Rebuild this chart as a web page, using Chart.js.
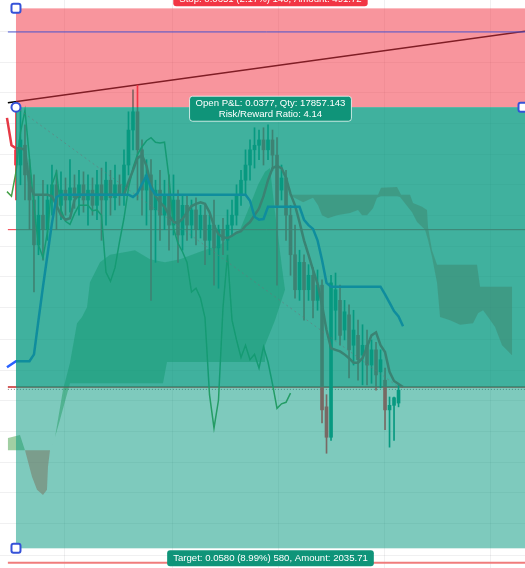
<!DOCTYPE html>
<html lang="en">
<head>
<meta charset="utf-8">
<title>Short position</title>
<script src="https://cdn.jsdelivr.net/npm/chart.js@4.4.1/dist/chart.umd.min.js"></script>
<style>
  html, body { margin: 0; padding: 0; background: #ffffff; }
  canvas { display: block; }
</style>
</head>
<body>
<canvas id="positionChart" width="525" height="568"></canvas>
<script>
// position levels
const stopPrice = 0.0651;
const entryPrice = 0.0638;
const targetPrice = 0.0580;
const closePrice = 0.06012;
const levelPrice = 0.06219;
const bluePrice = 0.06479;
const floorPrice = 0.05781;
const trendStart = [-1.8, 0.06386];
const trendEnd = [113.1, 0.06480];
const entryBar = 0;
const lastBar = 85;

// visible range
const barMin = -3.55, barMax = 113.1;
const priceMin = 0.057741, priceMax = 0.06521;
const xGridBars = [10.89, 34.67, 58.22, 81.78, 105.33];
const yGridPrices = [0.06480, 0.06439, 0.06400, 0.06359, 0.06318, 0.06278, 0.06237, 0.06197, 0.06157,
  0.06116, 0.06075, 0.06034, 0.05995, 0.05954, 0.05913, 0.05873, 0.05832, 0.05791];

// candles, bar 0..85
const candleOpen = [0.06324,0.06304,0.06330,0.06291,0.06258,0.06199,0.06238,0.06219,0.06258,0.06278,
  0.06251,0.06271,0.06258,0.06274,0.06261,0.06278,0.06258,0.06271,0.06251,0.06278,
  0.06258,0.06284,0.06261,0.06278,0.06265,0.06304,0.06350,0.06374,0.06324,0.06271,
  0.06291,0.06245,0.06271,0.06238,0.06265,0.06225,0.06258,0.06212,0.06251,0.06225,
  0.06245,0.06219,0.06238,0.06205,0.06225,0.06195,0.06219,0.06205,0.06225,0.06238,
  0.06265,0.06284,0.06304,0.06324,0.06330,0.06337,0.06324,0.06337,0.06317,0.06271,
  0.06287,0.06238,0.06186,0.06140,0.06176,0.06140,0.06159,0.06126,0.06146,0.05986,
  0.05946,0.06113,0.06126,0.06087,0.06107,0.06067,0.06080,0.06054,0.06067,0.06041,
  0.06061,0.06032,0.06021,0.05982,0.05988,0.05991];
const candleClose = [0.06304,0.06337,0.06291,0.06258,0.06199,0.06238,0.06219,0.06258,0.06278,0.06251,
  0.06271,0.06258,0.06274,0.06261,0.06278,0.06258,0.06271,0.06251,0.06278,0.06258,
  0.06284,0.06261,0.06278,0.06265,0.06304,0.06350,0.06374,0.06324,0.06271,0.06291,
  0.06245,0.06271,0.06238,0.06265,0.06225,0.06258,0.06212,0.06251,0.06225,0.06245,
  0.06219,0.06238,0.06205,0.06225,0.06195,0.06219,0.06205,0.06225,0.06238,0.06265,
  0.06284,0.06304,0.06324,0.06330,0.06337,0.06324,0.06337,0.06317,0.06251,0.06287,
  0.06238,0.06186,0.06140,0.06176,0.06140,0.06159,0.06126,0.06146,0.05982,0.05946,
  0.06149,0.06140,0.06080,0.06111,0.06061,0.06087,0.06048,0.06067,0.06041,0.06061,
  0.06028,0.06048,0.05982,0.05988,0.05998,0.06008];
const candleHigh = [0.06374,0.06379,0.06357,0.06311,0.06291,0.06265,0.06284,0.06278,0.06304,0.06297,
  0.06295,0.06287,0.06311,0.06291,0.06297,0.06295,0.06291,0.06287,0.06297,0.06300,
  0.06308,0.06297,0.06304,0.06291,0.06324,0.06374,0.06403,0.06409,0.06337,0.06311,
  0.06311,0.06284,0.06297,0.06284,0.06291,0.06291,0.06271,0.06265,0.06265,0.06258,
  0.06261,0.06251,0.06251,0.06238,0.06258,0.06225,0.06234,0.06245,0.06258,0.06278,
  0.06297,0.06324,0.06337,0.06353,0.06350,0.06353,0.06357,0.06350,0.06340,0.06304,
  0.06297,0.06251,0.06225,0.06192,0.06186,0.06173,0.06169,0.06166,0.06153,0.06002,
  0.06159,0.06162,0.06146,0.06126,0.06120,0.06113,0.06100,0.06094,0.06087,0.06074,
  0.06071,0.06061,0.06037,0.05999,0.05999,0.06015];
const candleLow = [0.06258,0.06278,0.06258,0.06219,0.06137,0.06186,0.06179,0.06205,0.06238,0.06219,
  0.06232,0.06238,0.06242,0.06247,0.06238,0.06242,0.06225,0.06238,0.06232,0.06205,
  0.06225,0.06238,0.06245,0.06251,0.06251,0.06291,0.06324,0.06258,0.06238,0.06225,
  0.06126,0.06176,0.06205,0.06219,0.06192,0.06212,0.06176,0.06192,0.06205,0.06208,
  0.06199,0.06208,0.06173,0.06186,0.06146,0.06142,0.06186,0.06192,0.06212,0.06225,
  0.06251,0.06265,0.06284,0.06300,0.06311,0.06304,0.06311,0.06297,0.06146,0.06258,
  0.06205,0.06159,0.06129,0.06126,0.06100,0.06126,0.06103,0.06113,0.05965,0.05925,
  0.05942,0.06074,0.06067,0.06074,0.06024,0.06041,0.06021,0.06015,0.06015,0.06017,
  0.06008,0.06011,0.05956,0.05933,0.05942,0.05986];

// indicator lines, bar -2..86
const baseLine = [0.06366,0.06330,0.06326,0.06326,0.06324,0.06278,0.06265,0.06265,0.06265,0.06265,
  0.06263,0.06251,0.06238,0.06232,0.06234,0.06258,0.06265,0.06265,0.06265,0.06265,
  0.06265,0.06265,0.06265,0.06265,0.06265,0.06265,0.06265,0.06282,0.06297,0.06313,
  0.06317,0.06303,0.06278,0.06263,0.06255,0.06249,0.06238,0.06229,0.06228,0.06233,
  0.06242,0.06250,0.06253,0.06255,0.06253,0.06242,0.06224,0.06213,0.06209,0.06208,
  0.06211,0.06215,0.06217,0.06224,0.06229,0.06238,0.06247,0.06263,0.06284,0.06300,
  0.06303,0.06300,0.06287,0.06266,0.06251,0.06229,0.06205,0.06186,0.06166,0.06148,
  0.06120,0.06087,0.06063,0.06061,0.06059,0.06055,0.06050,0.06044,0.06044,0.06050,
  0.06065,0.06080,0.06084,0.06067,0.06058,0.06032,0.06020,0.06016,0.06012];
const conversionLine = [0.06038,0.06042,0.06046,0.06046,0.06046,0.06046,0.06055,0.06100,0.06144,0.06186,
  0.06228,0.06262,0.06265,0.06265,0.06265,0.06265,0.06265,0.06265,0.06265,0.06265,
  0.06265,0.06265,0.06265,0.06265,0.06265,0.06265,0.06265,0.06265,0.06262,0.06267,
  0.06279,0.06290,0.06274,0.06265,0.06265,0.06265,0.06265,0.06265,0.06265,0.06265,
  0.06265,0.06265,0.06265,0.06265,0.06265,0.06265,0.06265,0.06265,0.06265,0.06265,
  0.06265,0.06265,0.06265,0.06265,0.06257,0.06236,0.06232,0.06233,0.06249,0.06249,
  0.06249,0.06249,0.06249,0.06249,0.06249,0.06249,0.06232,0.06225,0.06220,0.06205,
  0.06179,0.06149,0.06144,0.06144,0.06144,0.06144,0.06144,0.06144,0.06144,0.06144,
  0.06144,0.06144,0.06144,0.06144,0.06134,0.06123,0.06112,0.06105,0.06092];
const laggingSpan = [0.06269,0.06263,0.06295,0.06347,0.06376,0.06313,0.06249,0.06199,0.06182,0.06216,
  0.06278,0.06295,0.06245,0.06230,0.06226,0.06240,0.06251,0.06251,0.06251,0.06244,
  0.06245,0.06238,0.06163,0.06151,0.06169,0.06203,0.06234,0.06274,0.06300,0.06318,
  0.06328,0.06336,0.06340,0.06334,0.06333,0.06334,0.06287,0.06221,0.06201,0.06190,
  0.06176,0.06137,0.06142,0.06129,0.06103,0.06002,0.05958,0.05995,0.06117,0.06186,
  0.06100,0.06074,0.06051,0.06067,0.06048,0.06055,0.06037,0.06065,0.06045,0.06016,
  0.05984,0.05990,0.05992,0.06004];

// cloud outlines [bar, price]
const cloudBull = [[7.56,0.05923],[8.67,0.05946],[10.44,0.06008],[12.0,0.06044],[13.56,0.06096],
  [14.67,0.06104],[15.78,0.06117],[16.44,0.06150],[18.67,0.06176],[20.89,0.06186],[24.67,0.06190],
  [26.44,0.06192],[29.78,0.06180],[33.11,0.06176],[36.44,0.06180],[40.89,0.06190],[45.33,0.06199],
  [49.78,0.06219],[52.0,0.06251],[53.78,0.06278],[55.33,0.06295],[56.44,0.06300],[57.56,0.06242],
  [58.22,0.06212],[59.11,0.06169],[59.78,0.06140],[57.56,0.06100],[55.33,0.06067],[55.33,0.06045],
  [33.56,0.06045],[32.67,0.06017],[12.0,0.06017],[9.78,0.05969]];
const cloudBullLeft = [[-1.78,0.05945],[0.89,0.05949],[2.0,0.05929],[-1.78,0.05929]];
const cloudBearLeft = [[2.0,0.05929],[3.56,0.05894],[4.67,0.05877],[6.0,0.05870],[6.89,0.05877],
  [7.11,0.05907],[7.56,0.05929]];
const cloudBear = [[60.44,0.06265],[80.44,0.06265],[81.11,0.06274],[84.67,0.06275],[85.56,0.06265],
  [87.56,0.06265],[88.22,0.06254],[90.22,0.06249],[91.33,0.06245],[91.56,0.06222],[92.44,0.06192],
  [93.56,0.06173],[102.44,0.06173],[103.11,0.06144],[110.22,0.06144],[110.22,0.06054],[108.0,0.06067],
  [106.44,0.06091],[104.89,0.06104],[103.78,0.06113],[102.67,0.06109],[101.56,0.06096],[98.67,0.06094],
  [96.44,0.06100],[94.22,0.06104],[93.56,0.06149],[92.44,0.06183],[91.56,0.06205],[90.89,0.06219],
  [89.11,0.06229],[88.0,0.06242],[85.33,0.06262],[84.67,0.06263],[81.11,0.06263],[80.22,0.06261],
  [79.33,0.06247],[78.0,0.06238],[76.89,0.06238],[76.0,0.06245],[74.22,0.06241],[71.33,0.06238],
  [69.33,0.06234],[68.0,0.06238],[67.11,0.06251],[66.0,0.06261],[63.78,0.06255],[61.56,0.06262]];

const pnlText = ['Open P&L: 0.0377, Qty: 17857.143', 'Risk/Reward Ratio: 4.14'];
const targetText = ['Target: 0.0580 (8.99%) 580, Amount: 2035.71'];
const stopText = ['Stop: 0.0651 (2.17%) 140, Amount: 491.72'];

const GREEN = '#089981';
const RED = '#f23645';

const candleBars = candleOpen.map((_, k) => k);
const lineBars = baseLine.map((_, k) => k - 2);
const candleColors = candleBars.map(i => candleClose[i] >= candleOpen[i] ? GREEN : RED);
const toPoints = vals => vals.map((v, k) => ({ x: lineBars[k], y: v }));
const toShape = pts => pts.map(([x, y]) => ({ x, y }));
const hLine = (price, from, to) => [{ x: from, y: price }, { x: to, y: price }];

function shapeSet(pts, color) {
    return { type: 'line', data: toShape(pts), fill: 'shape', backgroundColor: color,
        borderWidth: 0, pointRadius: 0, order: 9 };
}
function levelSet(data, color, width, dash) {
    return { type: 'line', data, borderColor: color, borderWidth: width, borderDash: dash || [],
        pointRadius: 0, fill: false, order: 7 };
}

function drawTag(ctx, lines, cx, top, bg, border) {
    ctx.save();
    ctx.font = '9.6px "Liberation Sans", Arial, sans-serif';
    const w = Math.max(...lines.map(t => ctx.measureText(t).width)) + 12;
    const h = lines.length === 1 ? 16 : 25;
    ctx.beginPath();
    ctx.roundRect(cx - w / 2, top, w, h, 3);
    ctx.fillStyle = bg;
    ctx.fill();
    if (border) { ctx.strokeStyle = border; ctx.lineWidth = 1; ctx.stroke(); }
    ctx.fillStyle = '#ffffff';
    ctx.textAlign = 'center';
    ctx.textBaseline = 'middle';
    lines.forEach((t, k) => ctx.fillText(t, cx, top + (lines.length === 1 ? 8.5 : 7 + k * 11)));
    ctx.restore();
}

function handle(ctx, x, y, round) {
    ctx.beginPath();
    if (round) ctx.arc(x, y, 4.5, 0, Math.PI * 2);
    else ctx.roundRect(x - 4.5, y - 4.5, 9, 9, 2);
    ctx.fillStyle = '#ffffff';
    ctx.fill();
    ctx.lineWidth = 2;
    ctx.strokeStyle = '#3552d8';
    ctx.stroke();
}

const positionOverlay = {
    id: 'positionOverlay',
    afterDatasetsDraw(chart) {
        const { ctx, scales: { x, y } } = chart;
        const left = x.getPixelForValue(entryBar);
        const right = x.getPixelForValue(barMax);
        const yStop = y.getPixelForValue(stopPrice);
        const yEntry = y.getPixelForValue(entryPrice);
        const yTarget = y.getPixelForValue(targetPrice);
        const yClose = y.getPixelForValue(closePrice);
        ctx.save();
        ctx.fillStyle = 'rgba(242,54,69,0.53)';
        ctx.fillRect(left, yStop, right - left, yEntry - yStop);
        ctx.fillStyle = 'rgba(8,153,129,0.52)';
        ctx.fillRect(left, yEntry, right - left, yTarget - yEntry);
        ctx.fillRect(left, yEntry, right - left, yClose - yEntry);

        // horizontal ray above the position
        const yBlue = y.getPixelForValue(bluePrice);
        ctx.beginPath();
        ctx.moveTo(x.getPixelForValue(trendStart[0]), yBlue);
        ctx.lineTo(right, yBlue);
        ctx.strokeStyle = '#4a55d0';
        ctx.lineWidth = 1;
        ctx.stroke();

        // entry -> last close
        ctx.beginPath();
        ctx.setLineDash([2, 3]);
        ctx.moveTo(left, yEntry);
        ctx.lineTo(x.getPixelForValue(lastBar), yClose);
        ctx.strokeStyle = 'rgba(110,115,120,0.55)';
        ctx.stroke();
        ctx.setLineDash([]);

        drawTag(ctx, stopText, (left + right) / 2, yStop - 18, RED);
        drawTag(ctx, pnlText, (left + right) / 2, yEntry - 11, '#0f9479', 'rgba(255,255,255,0.75)');
        drawTag(ctx, targetText, (left + right) / 2, yTarget + 2, '#0f9479');

        handle(ctx, left, yStop, false);
        handle(ctx, left, yTarget, false);
        handle(ctx, right - 2, yEntry, false);
        handle(ctx, left, yEntry, true);
        ctx.restore();
    }
};

const ctx = document.getElementById('positionChart').getContext('2d');

const config = {
    type: 'line',
    data: {
        datasets: [
            shapeSet(cloudBull, 'rgba(67,160,71,0.5)'),
            shapeSet(cloudBullLeft, 'rgba(67,160,71,0.5)'),
            shapeSet(cloudBearLeft, 'rgba(244,67,54,0.5)'),
            shapeSet(cloudBear, 'rgba(244,67,54,0.5)'),
            levelSet(hLine(levelPrice, trendStart[0], barMax), RED, 1),
            levelSet(hLine(closePrice, trendStart[0], barMax), '#c62828', 1.5),
            levelSet(hLine(closePrice - 0.00003, trendStart[0], barMax), 'rgba(40,40,40,0.6)', 1, [1, 2]),
            levelSet(hLine(floorPrice, trendStart[0], barMax), '#f07c7c', 2),
            levelSet([{ x: trendStart[0], y: trendStart[1] }, { x: trendEnd[0], y: trendEnd[1] }], '#000000', 1.5),
            {
                type: 'bar', grouped: false, order: 6, barThickness: 1,
                data: candleBars.map(i => ({ x: i, y: [candleLow[i], candleHigh[i]] })),
                backgroundColor: candleColors
            },
            {
                type: 'bar', grouped: false, order: 5, barThickness: 3, minBarLength: 1,
                data: candleBars.map(i => ({ x: i, y: [candleOpen[i], candleClose[i]] })),
                backgroundColor: candleColors
            },
            { type: 'line', data: toPoints(laggingSpan), borderColor: '#43a047', borderWidth: 1.5,
              pointRadius: 0, fill: false, order: 3 },
            { type: 'line', data: toPoints(baseLine), borderColor: '#e53945', borderWidth: 2.5,
              pointRadius: 0, fill: false, order: 2 },
            { type: 'line', data: toPoints(conversionLine), borderColor: '#2962ff', borderWidth: 2.5,
              pointRadius: 0, fill: false, order: 1 }
        ]
    },
    options: {
        responsive: false,
        animation: false,
        events: [],
        layout: { padding: 0 },
        plugins: { legend: { display: false }, tooltip: { enabled: false } },
        scales: {
            x: {
                type: 'linear', min: barMin, max: barMax, offset: false,
                grid: { color: 'rgba(42,46,57,0.07)', drawTicks: false, offset: false },
                border: { display: false },
                ticks: { display: false },
                afterBuildTicks: axis => { axis.ticks = xGridBars.map(v => ({ value: v })); }
            },
            y: {
                type: 'linear', min: priceMin, max: priceMax,
                grid: { color: 'rgba(42,46,57,0.07)', drawTicks: false },
                border: { display: false },
                ticks: { display: false },
                afterBuildTicks: axis => { axis.ticks = yGridPrices.map(v => ({ value: v })); }
            }
        }
    },
    plugins: [positionOverlay]
};

const positionChart = new Chart(ctx, config);
</script>
</body>
</html>
